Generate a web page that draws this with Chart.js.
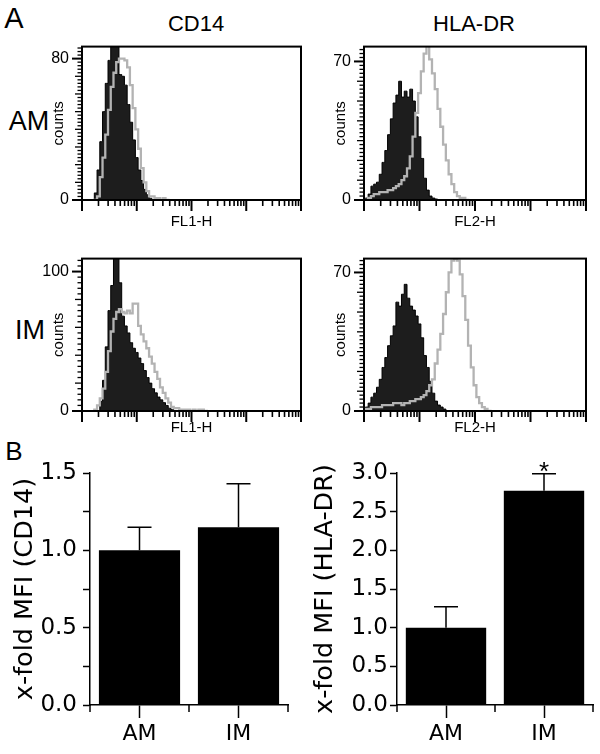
<!DOCTYPE html>
<html><head><meta charset="utf-8">
<script src="https://cdn.jsdelivr.net/npm/chart.js@4.4.1/dist/chart.umd.min.js"></script>
<style>
html,body{margin:0;padding:0;background:#fff;}
#wrap{position:relative;width:600px;height:754px;overflow:hidden;font-family:"Liberation Sans",Arial,sans-serif;color:#000;}
canvas{position:absolute;}
.lbl{position:absolute;white-space:nowrap;line-height:1;transform:translate(-50%,-50%);}
</style></head><body><div id="wrap">
<div class="lbl" style="left:14px;top:18px;font-size:29px;">A</div>
<div class="lbl" style="left:196px;top:24px;font-size:22px;">CD14</div>
<div class="lbl" style="left:474px;top:24px;font-size:22px;">HLA-DR</div>
<div class="lbl" style="left:29px;top:121px;font-size:27px;">AM</div>
<div class="lbl" style="left:30px;top:330px;font-size:27px;">IM</div>
<div class="lbl" style="left:14px;top:451px;font-size:26px;">B</div>
<canvas id="h1"></canvas><canvas id="h2"></canvas><canvas id="h3"></canvas><canvas id="h4"></canvas>
<canvas id="b1"></canvas><canvas id="b2"></canvas>
</div>
<script>
// ---------- histogram data (x in log10 decades of fluorescence, y in counts) ----------
const binsCD14AM = [0.20,0.25,0.30,0.35,0.40,0.45,0.50,0.55,0.60,0.65,0.70,0.75,0.80,0.85,0.90,0.95,1.00,1.05,1.10,1.15,1.20,1.25,1.30,1.35,1.40,1.45,1.50,1.55,1.60];
const isoCD14AM  = [0,4,17,33,50,66,79,92,100,92,71,70,65,54,44,34,24,17,11,6,3,1,0,0,0,0,0,0,0];
const abCD14AM   = [0,0,2,13,24,37,51,64,72,78,80,80,79,75,65,52,40,29,18,10,5,2,2,1,1,0,1,0,0];

const binsHLAAM = [0.00,0.05,0.10,0.15,0.20,0.25,0.30,0.35,0.40,0.45,0.50,0.55,0.60,0.65,0.70,0.75,0.80,0.85,0.90,0.95,1.00,1.05,1.10,1.15,1.20,1.25,1.30,1.35,1.40,1.45,1.50,1.55,1.60,1.65,1.70,1.75,1.80,1.85,1.90];
const isoHLAAM  = [0,1,3,7,8,9,13,19,25,33,41,49,53,60,52,55,52,56,50,42,32,21,11,5,2,1,0.5,0,0,0,0,0,0,0,0,0,0,0,0];
const abHLAAM   = [0,0,1,2,3,3,4,4,4,5,5,6,7,8,10,12,16,22,32,44,54,65,74,78,71,64,56,46,37,28,20,13,8,4,2,1,1,0,0];

const binsCD14IM = [0.20,0.25,0.30,0.35,0.40,0.45,0.50,0.55,0.60,0.65,0.70,0.75,0.80,0.85,0.90,0.95,1.00,1.05,1.10,1.15,1.20,1.25,1.30,1.35,1.40,1.45,1.50,1.55,1.60,1.65,1.70,1.75,1.80,1.85,1.90,1.95,2.00,2.05,2.10,2.15,2.20,2.25,2.30];
const isoCD14IM  = [0,0,0,7,22,46,72,90,112,115,92,68,61,56,49,45,42,38,34,29,24,20,16,13,10,8,6,4,2,1,0,0,0,0,0,0,0,0,0,0,0,0,0];
const abCD14IM   = [0,1,4,9,16,28,43,57,66,71,73,71,70,72,70,77,77,61,55,50,45,39,34,28,23,17,13,9,6,3,2,2,1,1,1,1,0,1,0,1,1,0,0];

const binsHLAIM = [0.00,0.05,0.10,0.15,0.20,0.25,0.30,0.35,0.40,0.45,0.50,0.55,0.60,0.65,0.70,0.75,0.80,0.85,0.90,0.95,1.00,1.05,1.10,1.15,1.20,1.25,1.30,1.35,1.40,1.45,1.50,1.55,1.60,1.65,1.70,1.75,1.80,1.85,1.90,1.95,2.00,2.05,2.10,2.15,2.20,2.25,2.30];
const isoHLAIM  = [0,2,4,7,9,12,16,22,27,33,38,43,55,53,59,64,57,53,51,48,44,37,28,22,15,9,5,3,2,1,0,0,0,0,0,0,0,0,0,0,0,0,0,0,0,0,0];
const abHLAIM   = [0,1,1,2,2,2,2,3,3,3,3,4,4,4,3,4,4,5,5,6,6,7,8,10,13,16,24,31,39,49,60,70,76,77,76,69,58,46,33,22,13,7,4,2,1,0,0];

// histogram axis ticks
const decades = [0,1,2,3];
const decadeMultipliers = [1,2,3,4,5,6,7,8,9];
const yLabelsCD14AM = [0,80], yLabelsHLAAM = [0,70], yLabelsCD14IM = [0,100], yLabelsHLAIM = [0,70];

// ---------- bar chart data ----------
const categories = ['AM','IM'];
const cd14Mean = [1.00, 1.15];
const cd14Err  = [0.15, 0.28];
const hlaMean  = [1.00, 2.77];
const hlaErr   = [0.27, 0.22];
const hlaSig   = ['', '*'];
const cd14Ticks = [0, 0.5, 1.0, 1.5];
const hlaTicks  = [0, 0.5, 1.0, 1.5, 2.0, 2.5, 3.0];

Chart.defaults.font.family = '"Liberation Sans", Arial, sans-serif';
Chart.defaults.color = '#000';

function pts(bins, vals){ return bins.map((b,i)=>({x:b, y:vals[i]})); }

const histAxes = {
  id: 'histAxes',
  afterDraw(chart, args, o) {
    const {ctx, chartArea: a, scales: {x, y}} = chart;
    ctx.save();
    ctx.strokeStyle = '#000';
    // x ticks (log decades)
    const xt = [];
    decades.forEach(d => decadeMultipliers.forEach(k => xt.push({v: d + Math.log10(k), major: k === 1})));
    xt.push({v: 4, major: true});
    xt.forEach(t => {
      const px = x.getPixelForValue(t.v);
      ctx.lineWidth = t.major ? 2 : 1.6;
      ctx.beginPath(); ctx.moveTo(px, a.bottom); ctx.lineTo(px, a.bottom + (t.major ? 11 : 6)); ctx.stroke();
    });
    // y ticks
    for (let i = 0; i * o.minor <= y.max + 1e-9; i++) {
      const v = i * o.minor;
      const py = y.getPixelForValue(v);
      const lab = o.labels.some(l => Math.abs(l - v) < 1e-6);
      const med = Math.abs(v / o.medium - Math.round(v / o.medium)) < 1e-6;
      const len = lab ? 10 : (med ? 7 : 4.5);
      ctx.lineWidth = lab ? 2 : 1.3;
      ctx.beginPath(); ctx.moveTo(a.left, py); ctx.lineTo(a.left - len, py); ctx.stroke();
    }
    ctx.lineWidth = 2;
    ctx.strokeRect(a.left, a.top, a.right - a.left, a.bottom - a.top);
    ctx.restore();
  }
};

function makeHist(id, c) {
  const cv = document.getElementById(id);
  cv.width = c.R - c.L + 56; cv.height = c.B - c.T + 50;
  cv.style.left = (c.L - 50) + 'px'; cv.style.top = (c.T - 10) + 'px';
  new Chart(cv, {
    type: 'line',
    data: { datasets: [
      { label: 'antibody', data: pts(c.bins, c.ab), borderColor: '#b3b3b3', borderWidth: 2.3, fill: false, stepped: 'middle', pointRadius: 0, order: 0, clip: 0 },
      { label: 'isotype', data: pts(c.bins, c.iso), borderColor: '#000', backgroundColor: '#1d1d1d', borderWidth: 1, fill: 'origin', stepped: 'middle', pointRadius: 0, order: 1, clip: 0 }
    ]},
    options: {
      responsive: false, animation: false, events: [],
      layout: { padding: { left: 0, top: 10, right: 6, bottom: 0 } },
      plugins: { legend: {display: false}, tooltip: {enabled: false},
        histAxes: { labels: c.yLabels, minor: c.minor, medium: c.medium } },
      scales: {
        x: { type: 'linear', min: 0, max: 4, grid: {display: false, drawTicks: false}, border: {display: false}, ticks: {display: false},
             title: {display: true, text: c.xTitle, color: '#000', font: {size: 15}, padding: {top: 0, bottom: c.xPad}},
             afterFit: s => { s.height = 40; } },
        y: { type: 'linear', min: 0, max: c.ymax, grid: {display: false, drawTicks: false}, border: {display: false},
             afterBuildTicks: s => { s.ticks = c.yLabels.map(v => ({value: v})); },
             ticks: { color: '#000', font: {size: 16}, padding: 13 },
             title: {display: true, text: 'counts', color: '#000', font: {size: 15}, padding: {top: 18, bottom: 0}},
             afterFit: s => { s.width = 50; } }
      }
    },
    plugins: [histAxes]
  });
}

makeHist('h1', {L: 82, R: 301, T: 34, B: 200, ymax: 86.8, bins: binsCD14AM, iso: isoCD14AM, ab: abCD14AM, yLabels: yLabelsCD14AM, minor: 2, medium: 10, xTitle: 'FL1-H', xPad: 9});
makeHist('h2', {L: 364, R: 586, T: 34, B: 200, ymax: 77.5, bins: binsHLAAM, iso: isoHLAAM, ab: abHLAAM, yLabels: yLabelsHLAAM, minor: 2, medium: 10, xTitle: 'FL2-H', xPad: 9});
makeHist('h3', {L: 82, R: 301, T: 246, B: 411, ymax: 109.3, bins: binsCD14IM, iso: isoCD14IM, ab: abCD14IM, yLabels: yLabelsCD14IM, minor: 4, medium: 20, xTitle: 'FL1-H', xPad: 14});
makeHist('h4', {L: 364, R: 586, T: 246, B: 411, ymax: 77, bins: binsHLAIM, iso: isoHLAIM, ab: abHLAIM, yLabels: yLabelsHLAIM, minor: 2, medium: 10, xTitle: 'FL2-H', xPad: 14});

// ---------- bar charts ----------
const barExtras = {
  id: 'barExtras',
  afterDatasetsDraw(chart) {
    const {ctx, chartArea: a, scales: {x, y}} = chart;
    ctx.save();
    ctx.strokeStyle = '#000'; ctx.lineWidth = 1.5;
    chart.data.datasets.forEach((ds, di) => {
      chart.getDatasetMeta(di).data.forEach((bar, i) => {
        const top = y.getPixelForValue(ds.data[i] + ds.errors[i]);
        const base = y.getPixelForValue(ds.data[i]);
        ctx.beginPath();
        ctx.moveTo(bar.x, base); ctx.lineTo(bar.x, top);
        ctx.moveTo(bar.x - 12, top); ctx.lineTo(bar.x + 12, top);
        ctx.stroke();
        if (ds.sig && ds.sig[i]) {
          ctx.fillStyle = '#000';
          ctx.font = '26px "Liberation Sans", Arial, sans-serif';
          ctx.textAlign = 'center'; ctx.textBaseline = 'alphabetic';
          ctx.fillText(ds.sig[i], bar.x, top + 6.5);
        }
      });
    });
    // boundary tick marks between categories
    [-0.5, 0.5, 1.5].forEach(v => {
      const px = x.getPixelForValue(v);
      ctx.beginPath(); ctx.moveTo(px, a.bottom); ctx.lineTo(px, a.bottom + 7); ctx.stroke();
    });
    ctx.restore();
  }
};

function makeBar(id, c) {
  const cv = document.getElementById(id);
  cv.width = 300; cv.height = 314;
  cv.style.left = c.left + 'px'; cv.style.top = '440px';
  new Chart(cv, {
    type: 'bar',
    data: { labels: categories, datasets: [{ data: c.mean, errors: c.err, sig: c.sig, backgroundColor: '#000', borderWidth: 0, barPercentage: 0.82, categoryPercentage: 1.0 }] },
    options: {
      responsive: false, animation: false, events: [],
      layout: { padding: { left: 0, top: 33, right: c.padR, bottom: 0 } },
      plugins: { legend: {display: false}, tooltip: {enabled: false} },
      scales: {
        x: { grid: { display: true, drawOnChartArea: false, drawTicks: true, tickLength: 13, tickWidth: 1.5, tickColor: '#000', offset: false },
             border: { display: true, color: '#000', width: 1.5 },
             ticks: { color: '#000', font: { family: '"DejaVu Sans"', size: 22 }, padding: 3 },
             afterFit: s => { s.height = 49; } },
        y: { min: 0, max: c.ymax,
             afterBuildTicks: s => { const t = []; for (let i = 0; i * 0.25 <= c.ymax + 1e-9; i++) t.push({value: i * 0.25}); s.ticks = t; },
             ticks: { color: '#000', font: { family: '"DejaVu Sans"', size: 23 }, padding: c.tickPad,
                      callback: v => c.labels.some(l => Math.abs(l - v) < 1e-6) ? v.toFixed(1) : '' },
             grid: { drawOnChartArea: false, drawTicks: true, tickLength: 7, tickWidth: 1.5, tickColor: '#000' },
             border: { display: true, color: '#000', width: 1.5 },
             title: { display: true, text: c.title, color: '#000', font: { family: '"DejaVu Sans"', size: 25.5 }, padding: { top: 10, bottom: 0 } },
             afterFit: s => { s.width = c.yw; } }
      }
    },
    plugins: [barExtras]
  });
}

makeBar('b1', {left: 0, mean: cd14Mean, err: cd14Err, sig: null, ymax: 1.5, labels: cd14Ticks, padR: 12, yw: 90, tickPad: 6, title: 'x-fold MFI (CD14)'});
makeBar('b2', {left: 300, mean: hlaMean, err: hlaErr, sig: hlaSig, ymax: 3.0, labels: hlaTicks, padR: 7, yw: 97, tickPad: 2, title: 'x-fold MFI (HLA-DR)'});
</script>
</body></html>
